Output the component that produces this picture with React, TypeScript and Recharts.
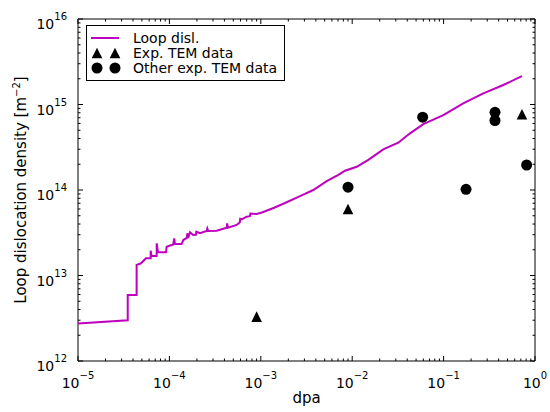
import React from 'react';
import { ComposedChart, Line, Scatter, XAxis, YAxis, Legend, ReferenceArea } from 'recharts';

// Simulated loop dislocation density versus dose
const loopDpa = [
  1e-5, 3.5e-5, 3.5e-5, 4.38e-5, 4.38e-5, 4.89e-5, 5.54e-5, 6.24e-5, 6.24e-5, 6.37e-5,
  7.26e-5, 7.26e-5, 7.5e-5, 9.18e-5, 9.33e-5, 1.1e-4, 1.13e-4, 1.15e-4, 1.36e-4, 1.42e-4,
  1.55e-4, 1.57e-4, 1.6e-4, 1.68e-4, 1.82e-4, 1.95e-4, 1.97e-4, 2.16e-4, 2.56e-4, 2.6e-4,
  2.66e-4, 3.29e-4, 4.24e-4, 4.28e-4, 4.38e-4, 5.44e-4, 5.9e-4, 5.95e-4, 6.18e-4, 7.0e-4,
  7.6e-4, 7.7e-4, 9.0e-4, 1.03e-3, 1.4e-3, 1.84e-3, 2.69e-3, 3.75e-3, 5.26e-3, 7.05e-3,
  8.34e-3, 0.0112, 0.015, 0.0219, 0.0319, 0.0429, 0.06, 0.0993, 0.164, 0.272,
  0.45, 0.72,
];
const loopDensity = [
  2.75e12, 3.0e12, 5.9e12, 5.9e12, 1.33e13, 1.39e13, 1.59e13, 1.59e13, 1.95e13, 1.69e13,
  1.69e13, 2.38e13, 1.87e13, 1.87e13, 2.17e13, 2.31e13, 2.72e13, 2.33e13, 2.33e13, 2.6e13,
  2.75e13, 3.12e13, 2.75e13, 3.2e13, 2.98e13, 3.0e13, 3.25e13, 3.12e13, 3.31e13, 3.55e13,
  3.31e13, 3.34e13, 3.62e13, 4.07e13, 3.62e13, 3.9e13, 4.2e13, 4.6e13, 4.54e13, 4.87e13,
  4.95e13, 5.3e13, 5.24e13, 5.46e13, 6.2e13, 7.05e13, 8.5e13, 1.0e14, 1.27e14, 1.5e14,
  1.68e14, 1.87e14, 2.25e14, 2.99e14, 3.57e14, 4.6e14, 5.9e14, 7.5e14, 1.03e15, 1.35e15,
  1.69e15, 2.15e15,
];

// TEM measurements from this work
const expDpa = [9e-4, 9e-3, 0.72];
const expDensity = [3.3e12, 6.0e13, 7.7e14];

// TEM measurements from other studies
const otherDpa = [9e-3, 0.059, 0.176, 0.365, 0.365, 0.81];
const otherDensity = [1.08e14, 7.1e14, 1.02e14, 8.1e14, 6.5e14, 1.96e14];

// Axis decades (tick labels are 10^n)
const xDecades = [-5, -4, -3, -2, -1, 0];
const yDecades = [12, 13, 14, 15, 16];

const seriesNames = ['Loop disl.', 'Exp. TEM data', 'Other exp. TEM data'];
const axisTitles = { x: 'dpa', y: 'Loop dislocation density [m', ySup: '\u22122', yEnd: ']' };

const W = 550;
const H = 412;
const PLOT = { left: 78, right: 535, top: 19, bottom: 361 };
const FONT = '"DejaVu Sans", sans-serif';
const MAGENTA = '#bf00bf';

const buildTicks = (decades: number[]) => {
  const out: number[] = [];
  decades.forEach((d, i) => {
    out.push(Math.pow(10, d));
    if (i < decades.length - 1) {
      for (let m = 2; m <= 9; m++) out.push(m * Math.pow(10, d));
    }
  });
  return out;
};
const xTicks = buildTicks(xDecades);
const yTicks = buildTicks(yDecades);

const loopData = loopDpa.map((dpa, i) => ({ dpa, density: loopDensity[i] }));
const expData = expDpa.map((dpa, i) => ({ dpa, density: expDensity[i] }));
const otherData = otherDpa.map((dpa, i) => ({ dpa, density: otherDensity[i] }));

const decadeOf = (v: number) => {
  const l = Math.log10(v);
  const e = Math.round(l);
  return Math.abs(l - e) < 1e-6 ? e : null;
};

const supText = (e: number) => (e < 0 ? '\u2212' + Math.abs(e) : String(e));

const XTick = (props: any) => {
  const { x, payload } = props;
  const e = decadeOf(payload.value);
  const len = e !== null ? 5 : 2.5;
  return (
    <g>
      <line x1={x} x2={x} y1={PLOT.bottom} y2={PLOT.bottom - len} stroke="#000" strokeWidth={1} />
      <line x1={x} x2={x} y1={PLOT.top} y2={PLOT.top + len} stroke="#000" strokeWidth={1} />
      {e !== null && (
        <text x={x} y={PLOT.bottom + 27} textAnchor="middle" fontFamily={FONT} fontSize={14} fill="#000">
          10
          <tspan dy={-9} fontSize={10}>{supText(e)}</tspan>
        </text>
      )}
    </g>
  );
};

const YTick = (props: any) => {
  const { y, payload } = props;
  const e = decadeOf(payload.value);
  const len = e !== null ? 5 : 2.5;
  return (
    <g>
      <line x1={PLOT.left} x2={PLOT.left + len} y1={y} y2={y} stroke="#000" strokeWidth={1} />
      <line x1={PLOT.right} x2={PLOT.right - len} y1={y} y2={y} stroke="#000" strokeWidth={1} />
      {e !== null && (
        <text x={PLOT.left - 11} y={y + 10} textAnchor="end" fontFamily={FONT} fontSize={14} fill="#000">
          10
          <tspan dy={-9} fontSize={10}>{supText(e)}</tspan>
        </text>
      )}
    </g>
  );
};

const Triangle = (props: any) => {
  const { cx, cy } = props;
  const s = 5.3;
  return <polygon points={`${cx},${cy - s} ${cx + s},${cy + s} ${cx - s},${cy + s}`} fill="#000" />;
};

const Dot = (props: any) => {
  const { cx, cy } = props;
  return <circle cx={cx} cy={cy} r={5.5} fill="#000" />;
};

const LEG = { left: 86, top: 25, width: 199, height: 56 };

const LegendBox = (props: any) => {
  const items = [...(props.payload || [])].sort(
    (a: any, b: any) => seriesNames.indexOf(a.value) - seriesNames.indexOf(b.value)
  );
  return (
    <svg width={LEG.width} height={LEG.height} style={{ display: 'block' }}>
      <rect x={0.5} y={0.5} width={LEG.width - 1} height={LEG.height - 1} fill="#fff" stroke="#000" strokeWidth={1} />
      {items.map((it: any, i: number) => {
        const cy = 13 + i * 15;
        let icon: React.ReactNode = null;
        if (it.type === 'line') {
          icon = <line x1={5} x2={33} y1={cy} y2={cy} stroke={it.color} strokeWidth={2} />;
        } else if (it.type === 'triangle') {
          icon = (
            <g>
              <Triangle cx={11} cy={cy} />
              <Triangle cx={29} cy={cy} />
            </g>
          );
        } else {
          icon = (
            <g>
              <Dot cx={11} cy={cy} />
              <Dot cx={29} cy={cy} />
            </g>
          );
        }
        return (
          <g key={i}>
            {icon}
            <text x={47} y={cy + 5} fontFamily={FONT} fontSize={14} fill="#000">
              {it.value}
            </text>
          </g>
        );
      })}
    </svg>
  );
};

const YTitle = () => (
  <text
    transform={`translate(26,${(PLOT.top + PLOT.bottom) / 2}) rotate(-90)`}
    textAnchor="middle"
    fontFamily={FONT}
    fontSize={15}
    fill="#000"
  >
    {axisTitles.y}
    <tspan dy={-6} fontSize={10}>{axisTitles.ySup}</tspan>
    <tspan dy={6}>{axisTitles.yEnd}</tspan>
  </text>
);

const XTitle = () => (
  <text x={(PLOT.left + PLOT.right) / 2} y={PLOT.bottom + 42} textAnchor="middle" fontFamily={FONT} fontSize={15} fill="#000">
    {axisTitles.x}
  </text>
);

export default function App() {
  return (
    <div style={{ position: 'absolute', left: 0, top: 0, width: W, height: H, background: '#fff' }}>
      <ComposedChart
        width={W}
        height={H}
        margin={{ top: PLOT.top, right: W - PLOT.right, bottom: 0, left: 0 }}
      >
        <XAxis
          dataKey="dpa"
          type="number"
          scale="log"
          domain={[1e-5, 1]}
          allowDataOverflow
          ticks={xTicks}
          interval={0}
          tick={<XTick />}
          tickLine={false}
          tickSize={0}
          tickMargin={0}
          axisLine={false}
          height={H - PLOT.bottom}
          label={{ content: <XTitle /> }}
        />
        <YAxis
          dataKey="density"
          type="number"
          scale="log"
          domain={[1e12, 1e16]}
          allowDataOverflow
          ticks={yTicks}
          interval={0}
          tick={<YTick />}
          tickLine={false}
          tickSize={0}
          tickMargin={0}
          axisLine={false}
          width={PLOT.left}
          label={{ content: <YTitle /> }}
        />
        <ReferenceArea x1={1e-5} x2={1} y1={1e12} y2={1e16} fill="none" fillOpacity={0} stroke="#000" strokeWidth={1} ifOverflow="visible" />
        <Legend
          layout="horizontal"
          verticalAlign="middle"
          align="center"
          wrapperStyle={{ left: LEG.left, top: LEG.top, width: LEG.width, height: LEG.height }}
          content={<LegendBox />}
        />
        <Line
          data={loopData}
          dataKey="density"
          name={seriesNames[0]}
          type="linear"
          stroke={MAGENTA}
          strokeWidth={2}
          dot={false}
          legendType="line"
          isAnimationActive={false}
        />
        <Scatter
          data={expData}
          dataKey="density"
          name={seriesNames[1]}
          fill="#000"
          shape={<Triangle />}
          legendType="triangle"
          isAnimationActive={false}
        />
        <Scatter
          data={otherData}
          dataKey="density"
          name={seriesNames[2]}
          fill="#000"
          shape={<Dot />}
          legendType="circle"
          isAnimationActive={false}
        />
      </ComposedChart>
    </div>
  );
}
